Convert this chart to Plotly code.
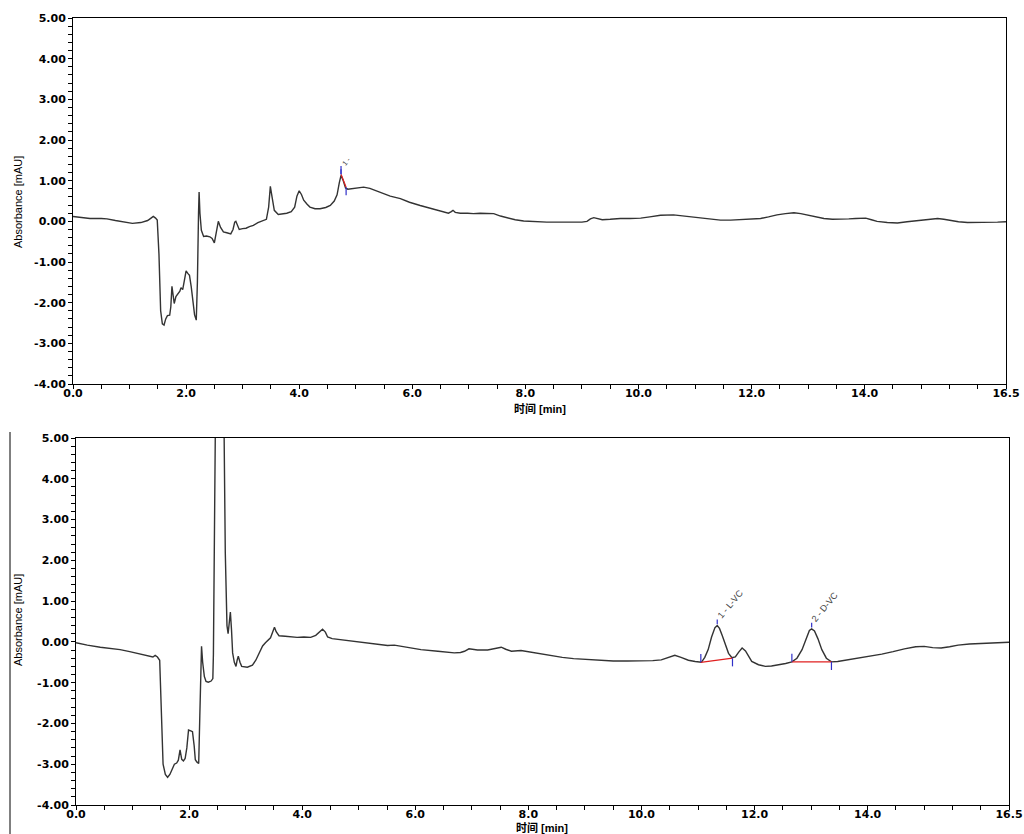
import plotly.graph_objects as go

# ---- Chromatogram A (upper trace): retention time [min] / absorbance [mAU]
time_a = [0.00, 0.15, 0.30, 0.50, 0.60, 0.75, 0.90, 1.05, 1.20, 1.32, 1.38, 1.42, 1.46, 1.49,
          1.52, 1.55, 1.58, 1.61, 1.64, 1.67, 1.71, 1.73, 1.75, 1.77, 1.79, 1.82, 1.85, 1.89,
          1.91, 1.94, 1.97, 2.00, 2.03, 2.06, 2.09, 2.12, 2.15, 2.18, 2.20, 2.22, 2.23, 2.245,
          2.27, 2.31, 2.36, 2.42, 2.46, 2.50, 2.53, 2.57, 2.61, 2.66, 2.72, 2.79, 2.83, 2.86,
          2.88, 2.91, 2.94, 3.00, 3.06, 3.12, 3.19, 3.27, 3.34, 3.42, 3.46, 3.49, 3.52, 3.56,
          3.63, 3.70, 3.78, 3.86, 3.92, 3.96, 4.00, 4.04, 4.08, 4.14, 4.19, 4.28, 4.37, 4.47,
          4.55, 4.62, 4.67, 4.71, 4.74, 4.78, 4.82, 4.86, 4.92, 5.02, 5.14, 5.25, 5.35, 5.45,
          5.61, 5.79, 5.95, 6.14, 6.26, 6.38, 6.52, 6.64, 6.69, 6.72, 6.76, 6.85, 6.98, 7.08,
          7.20, 7.32, 7.44, 7.56, 7.68, 7.82, 7.97, 8.15, 8.38, 8.68, 9.00, 9.09, 9.15, 9.21,
          9.28, 9.36, 9.50, 9.68, 9.85, 10.04, 10.20, 10.39, 10.62, 10.75, 10.86, 11.05, 11.27,
          11.45, 11.63, 11.80, 11.98, 12.16, 12.30, 12.45, 12.60, 12.75, 12.87, 12.98, 13.12,
          13.28, 13.43, 13.58, 13.72, 13.84, 14.02, 14.12, 14.22, 14.40, 14.58, 14.75, 14.93,
          15.10, 15.29, 15.40, 15.52, 15.66, 15.82, 16.00, 16.17, 16.35, 16.50]
absorb_a = [0.12, 0.09, 0.07, 0.07, 0.06, 0.02, -0.02, -0.05, -0.03, 0.02, 0.08, 0.12, 0.08, 0.03,
            -0.80, -2.20, -2.52, -2.55, -2.40, -2.32, -2.31, -2.10, -1.60, -1.85, -2.02, -1.85, -1.78, -1.72,
            -1.63, -1.68, -1.45, -1.22, -1.28, -1.33, -1.60, -2.00, -2.30, -2.43, -1.50, 0.20, 0.72, 0.20,
            -0.22, -0.37, -0.36, -0.38, -0.42, -0.53, -0.25, 0.00, -0.15, -0.26, -0.28, -0.31, -0.20, -0.02,
            0.00, -0.12, -0.20, -0.18, -0.17, -0.13, -0.10, -0.03, 0.00, 0.05, 0.35, 0.86, 0.60, 0.27,
            0.17, 0.18, 0.20, 0.24, 0.35, 0.62, 0.75, 0.66, 0.52, 0.42, 0.35, 0.31, 0.31, 0.34,
            0.39, 0.50, 0.65, 0.95, 1.13, 1.00, 0.82, 0.79, 0.80, 0.83, 0.84, 0.81, 0.76, 0.70,
            0.62, 0.56, 0.47, 0.39, 0.34, 0.29, 0.24, 0.20, 0.24, 0.27, 0.22, 0.20, 0.20, 0.19,
            0.20, 0.20, 0.19, 0.13, 0.08, 0.04, 0.01, -0.01, -0.02, -0.02, -0.02, 0.00, 0.06, 0.09,
            0.06, 0.04, 0.05, 0.07, 0.07, 0.08, 0.11, 0.15, 0.16, 0.14, 0.12, 0.08, 0.05,
            0.03, 0.03, 0.04, 0.06, 0.07, 0.11, 0.16, 0.19, 0.21, 0.19, 0.16, 0.11,
            0.07, 0.05, 0.05, 0.06, 0.07, 0.08, 0.04, 0.00, -0.03, -0.04, -0.01, 0.02,
            0.05, 0.07, 0.05, 0.02, -0.01, -0.03, -0.03, -0.03, -0.02, -0.01]

# ---- Chromatogram B (lower trace)
time_b = [0.00, 0.20, 0.43, 0.60, 0.78, 0.95, 1.13, 1.28, 1.36, 1.40, 1.44, 1.48, 1.51, 1.54,
          1.58, 1.62, 1.66, 1.70, 1.74, 1.78, 1.81, 1.84, 1.87, 1.90, 1.93, 1.96, 1.99, 2.03,
          2.06, 2.09, 2.11, 2.14, 2.17, 2.19, 2.21, 2.22, 2.24, 2.27, 2.30, 2.34, 2.39, 2.42,
          2.43, 2.45, 2.47, 2.50, 2.53, 2.58, 2.62, 2.64, 2.67, 2.69, 2.71, 2.73, 2.75, 2.77,
          2.80, 2.83, 2.85, 2.87, 2.90, 2.93, 3.03, 3.12, 3.18, 3.23, 3.30, 3.35, 3.44, 3.48,
          3.51, 3.54, 3.59, 3.70, 3.80, 3.91, 4.03, 4.15, 4.24, 4.30, 4.36, 4.41, 4.45, 4.53,
          4.70, 4.91, 5.10, 5.30, 5.51, 5.63, 5.85, 6.10, 6.40, 6.69, 6.80, 6.87, 6.95, 7.10,
          7.28, 7.40, 7.52, 7.60, 7.70, 7.87, 8.00, 8.20, 8.40, 8.60, 8.80, 9.00, 9.25, 9.50,
          9.75, 10.00, 10.20, 10.35, 10.47, 10.59, 10.70, 10.83, 10.95, 11.06, 11.12, 11.18,
          11.24, 11.30, 11.34, 11.38, 11.43, 11.48, 11.54, 11.60, 11.66, 11.72, 11.78, 11.84,
          11.90, 11.95, 12.07, 12.19, 12.30, 12.42, 12.55, 12.66, 12.75, 12.84, 12.92, 12.97,
          13.01, 13.06, 13.12, 13.19, 13.27, 13.36, 13.47, 13.60, 13.75, 13.90, 14.05, 14.25,
          14.45, 14.65, 14.85, 15.00, 15.15, 15.30, 15.45, 15.60, 15.80, 16.00, 16.20, 16.50]
absorb_b = [-0.02, -0.08, -0.13, -0.16, -0.19, -0.24, -0.30, -0.35, -0.37, -0.33, -0.37, -0.45, -1.50, -3.00,
            -3.25, -3.32, -3.25, -3.14, -3.00, -2.97, -2.90, -2.65, -2.88, -2.92, -2.86, -2.60, -2.16, -2.18,
            -2.20, -2.55, -2.89, -2.95, -2.98, -1.80, -0.40, -0.11, -0.50, -0.85, -0.97, -0.99, -0.96, -0.90,
            -0.30, 3.00, 8.00, 11.00, 11.50, 8.00, 5.00, 2.20, 0.40, 0.20, 0.50, 0.73, 0.30, -0.27,
            -0.50, -0.60, -0.45, -0.35, -0.50, -0.60, -0.62, -0.57, -0.45, -0.30, -0.10, -0.02, 0.10, 0.25,
            0.36, 0.25, 0.15, 0.14, 0.12, 0.11, 0.12, 0.11, 0.16, 0.24, 0.31, 0.24, 0.12, 0.08,
            0.05, 0.02, -0.02, -0.05, -0.09, -0.08, -0.13, -0.19, -0.23, -0.27, -0.26, -0.23, -0.17, -0.20,
            -0.20, -0.17, -0.13, -0.18, -0.23, -0.21, -0.24, -0.30, -0.34, -0.38, -0.41, -0.43, -0.45, -0.47,
            -0.47, -0.47, -0.46, -0.44, -0.38, -0.33, -0.38, -0.45, -0.48, -0.50, -0.38, -0.19,
            0.12, 0.35, 0.40, 0.33, 0.15, -0.07, -0.28, -0.39, -0.37, -0.25, -0.15, -0.22,
            -0.38, -0.48, -0.56, -0.60, -0.59, -0.57, -0.53, -0.49, -0.40, -0.19, 0.12, 0.28,
            0.32, 0.27, 0.08, -0.19, -0.40, -0.49, -0.48, -0.45, -0.42, -0.39, -0.35, -0.30,
            -0.24, -0.17, -0.12, -0.11, -0.14, -0.15, -0.12, -0.08, -0.05, -0.04, -0.03, -0.01]

# ---- Integration results
peak_a_names = ["1 -"]
peak_a_start = [4.74]
peak_a_end = [4.83]
peak_a_base_start = [1.16]
peak_a_base_end = [0.84]
peak_a_apex_t = [4.74]
peak_a_apex = [1.13]

peak_b_names = ["1 - L-VC", "2 - D-VC"]
peak_b_start = [11.05, 12.66]
peak_b_end = [11.61, 13.36]
peak_b_base_start = [-0.50, -0.49]
peak_b_base_end = [-0.40, -0.49]
peak_b_apex_t = [11.34, 13.01]
peak_b_apex = [0.40, 0.32]

# ---- Axis ticks
x_tick_vals = [0, 2, 4, 6, 8, 10, 12, 14, 16.5]
x_tick_text = ["0.0", "2.0", "4.0", "6.0", "8.0", "10.0", "12.0", "14.0", "16.5"]
y_tick_vals = [-4, -3, -2, -1, 0, 1, 2, 3, 4, 5]
y_tick_text = ["-4.00", "-3.00", "-2.00", "-1.00", "0.00", "1.00", "2.00", "3.00", "4.00", "5.00"]

W, H = 1024, 834
TRACE_COLOR = "#333333"
BASE_COLOR = "#e02020"
MARK_COLOR = "#3030c8"
MARK_LEN = 0.2

fig = go.Figure()


def add_chromatogram(xa, ya, t, a):
    fig.add_trace(go.Scatter(x=t, y=a, mode="lines", xaxis=xa, yaxis=ya,
                             line=dict(color=TRACE_COLOR, width=1.4),
                             hoverinfo="skip", showlegend=False))


def add_integration(xa, ya, starts, ends, b0, b1, apex_t, apex):
    # baselines
    bx, by = [], []
    for s, e, p, q in zip(starts, ends, b0, b1):
        bx += [s, e, None]
        by += [p, q, None]
    fig.add_trace(go.Scatter(x=bx, y=by, mode="lines", xaxis=xa, yaxis=ya,
                             line=dict(color=BASE_COLOR, width=1.2),
                             hoverinfo="skip", showlegend=False))
    # start / end / apex markers
    mx, my = [], []
    for s, e, p, q, at, av in zip(starts, ends, b0, b1, apex_t, apex):
        mx += [s, s, None, e, e, None, at, at, None]
        my += [p, p + MARK_LEN, None, q - MARK_LEN, q, None,
               av + 0.03, av + 0.03 + MARK_LEN * 0.6, None]
    fig.add_trace(go.Scatter(x=mx, y=my, mode="lines", xaxis=xa, yaxis=ya,
                             line=dict(color=MARK_COLOR, width=1.2),
                             hoverinfo="skip", showlegend=False))


add_chromatogram("x", "y", time_a, absorb_a)
add_integration("x", "y", peak_a_start, peak_a_end, peak_a_base_start,
                peak_a_base_end, peak_a_apex_t, peak_a_apex)
add_chromatogram("x2", "y2", time_b, absorb_b)
add_integration("x2", "y2", peak_b_start, peak_b_end, peak_b_base_start,
                peak_b_base_end, peak_b_apex_t, peak_b_apex)

tick_font = dict(family="DejaVu Sans", size=11, color="black", weight="bold")


def xaxis_style(domain, anchor):
    return dict(domain=domain, anchor=anchor, range=[0, 16.5], automargin=False,
                tickvals=x_tick_vals, ticktext=x_tick_text, tickfont=tick_font,
                ticks="outside", ticklen=4, tickcolor="black", tickwidth=1,
                ticklabelstandoff=-5,
                minor=dict(tick0=0, dtick=0.5, ticks="outside", ticklen=4,
                           tickcolor="black", tickwidth=1),
                showline=True, linecolor="black", linewidth=1, mirror=True,
                showgrid=False, zeroline=False, fixedrange=True)


def yaxis_style(domain, anchor):
    return dict(domain=domain, anchor=anchor, range=[-4, 5], automargin=False,
                tickvals=y_tick_vals, ticktext=y_tick_text, tickfont=tick_font,
                ticks="outside", ticklen=4, tickcolor="black", tickwidth=1,
                minor=dict(tick0=0, dtick=0.2, ticks="outside", ticklen=4,
                           tickcolor="black", tickwidth=1),
                showline=True, linecolor="black", linewidth=1, mirror=True,
                showgrid=False, zeroline=False, fixedrange=True)


fig.update_layout(
    width=W, height=H,
    margin=dict(l=0, r=0, t=0, b=0, pad=0),
    paper_bgcolor="white", plot_bgcolor="white",
    xaxis=xaxis_style([73 / W, 1006 / W], "y"),
    yaxis=yaxis_style([(H - 384) / H, (H - 18) / H], "x"),
    xaxis2=xaxis_style([76 / W, 1009 / W], "y2"),
    yaxis2=yaxis_style([(H - 805) / H, (H - 438) / H], "x2"),
)

annotations = []
title_font = dict(family="Liberation Sans, Arial, sans-serif", size=11, color="black")
xtitle_font = dict(family="Liberation Sans, Noto Sans CJK SC, sans-serif", size=11, color="black")
for yc in [(H - 202) / H, (H - 620) / H]:
    annotations.append(dict(text="Absorbance [mAU]", xref="paper", yref="paper",
                            x=18 / W, y=yc, textangle=-90, showarrow=False,
                            xanchor="center", yanchor="middle", font=title_font))
for xc, yc in [(540 / W, (H - 409) / H), (542 / W, (H - 827) / H)]:
    annotations.append(dict(text="<b>时间 [min]</b>", xref="paper", yref="paper",
                            x=xc, y=yc, showarrow=False, xanchor="center",
                            yanchor="middle", font=xtitle_font))

label_font = dict(family="Liberation Sans, Arial, sans-serif", size=9, color="#444444")
for name, at, av in zip(peak_b_names, peak_b_apex_t, peak_b_apex):
    annotations.append(dict(text=name, x=at, y=av, xref="x2", yref="y2",
                            showarrow=False, textangle=-50, xanchor="center",
                            yanchor="middle", xshift=13, yshift=22, font=label_font))
for name, at, av in zip(peak_a_names, peak_a_apex_t, peak_a_apex):
    annotations.append(dict(text=name, x=at, y=av, xref="x", yref="y",
                            showarrow=False, textangle=-50, xanchor="center",
                            yanchor="middle", xshift=5, yshift=14,
                            font=dict(family="Liberation Sans, Arial, sans-serif",
                                      size=7, color="#444444")))

fig.update_layout(annotations=annotations)

# outer frame line at the left edge of the lower report
fig.add_shape(type="line", xref="paper", yref="paper", x0=10 / W, x1=10 / W,
              y0=0, y1=(H - 432) / H, line=dict(color="black", width=1))

fig.write_html("out.html")
